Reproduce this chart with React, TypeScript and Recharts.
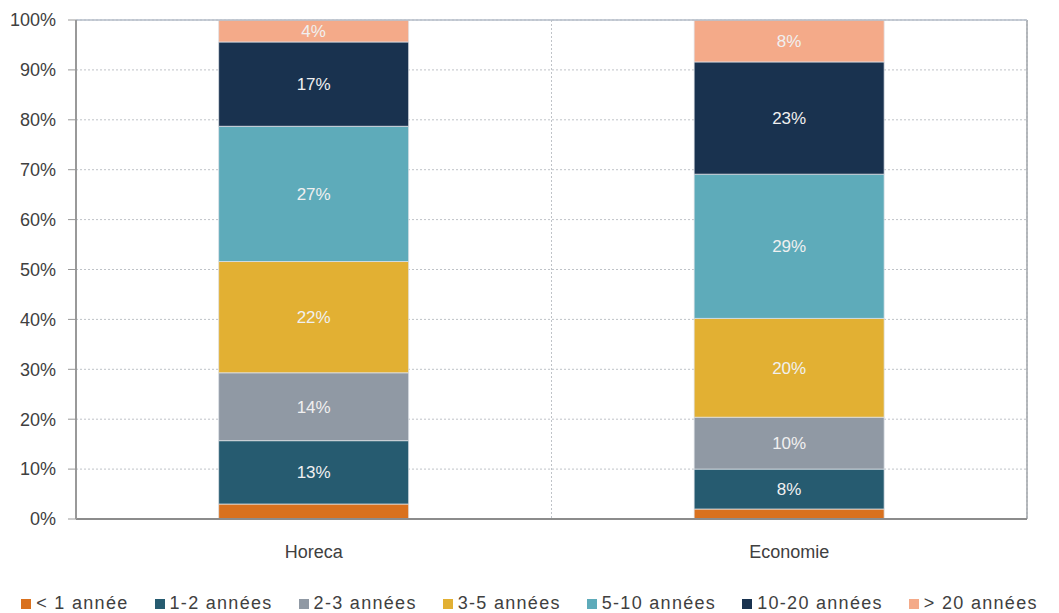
import React from 'react';
import { BarChart, Bar, XAxis, YAxis, CartesianGrid, LabelList, ReferenceLine, Legend } from 'recharts';

const categories = ['Horeca', 'Economie'];
const seriesNames = ['< 1 année', '1-2 années', '2-3 années', '3-5 années', '5-10 années', '10-20 années', '> 20 années'];
const horeca = [3.0, 12.7, 13.6, 22.3, 27.1, 16.9, 4.4];
const economie = [2.0, 8.0, 10.4, 19.8, 28.9, 22.5, 8.4];
const colors = ['#D9711E', '#265B70', '#9099A4', '#E2B033', '#5EABBA', '#19324F', '#F4AA89'];
const yTicks = [0, 10, 20, 30, 40, 50, 60, 70, 80, 90, 100];

const keys = seriesNames.map((_, i) => 's' + i);
const data = categories.map((c, ci) => {
  const row: any = { name: c, idx: ci + 0.5 };
  const vals = ci === 0 ? horeca : economie;
  keys.forEach((k, i) => (row[k] = vals[i]));
  return row;
});

const FONT = '"Liberation Sans", Arial, sans-serif';

const LegendContent = () => (
  <div style={{ display: 'flex', justifyContent: 'center', gap: 26, fontFamily: FONT, fontSize: 18, color: '#404040' }}>
    {seriesNames.map((n, i) => (
      <div key={n} style={{ display: 'flex', alignItems: 'center' }}>
        <span style={{ width: 10, height: 10, background: colors[i], display: 'inline-block', marginRight: 5 }} />
        <span style={{ letterSpacing: 1.3 }}>{n}</span>
      </div>
    ))}
  </div>
);

export default function App() {
  return (
    <div style={{ position: 'absolute', left: 0, top: 0, background: '#fff' }}>
      <BarChart width={1059} height={613} data={data} margin={{ top: 20, right: 32, left: 0, bottom: 28 }} barCategoryGap="30%">
        <XAxis xAxisId="grid" type="number" dataKey="idx" domain={[0, 2]} ticks={[0, 1, 2]} hide />
        <CartesianGrid xAxisId="grid" stroke="#bfc3c8" strokeDasharray="2 2" />
        <XAxis dataKey="name" height={45} tickLine={false} axisLine={{ stroke: '#8c8c8c', strokeWidth: 2 }} tickMargin={20}
          tick={{ fontFamily: FONT, fontSize: 18, fill: '#404040' }} />
        <YAxis domain={[0, 100]} ticks={yTicks} width={76} tickSize={8} tickMargin={12} interval={0}
          tickFormatter={(v: number) => `${v}%`} axisLine={{ stroke: '#999', strokeWidth: 2 }} tickLine={{ stroke: '#999' }}
          tick={{ fontFamily: FONT, fontSize: 18, fill: '#404040' }} />
        <ReferenceLine xAxisId="grid" x={2} stroke="#a0a4aa" strokeWidth={1.5} />
        <ReferenceLine y={100} stroke="#b4bcc8" strokeWidth={1.5} />
        {keys.map((k, i) => (
          <Bar key={k} dataKey={k} stackId="a" fill={colors[i]} stroke="#dfe3e8" strokeWidth={0.75} isAnimationActive={false}>
            <LabelList dataKey={k} position="center" fill="#f0f0f0" fontFamily={FONT} fontSize={17}
              formatter={(v: number) => (v >= 3.5 ? `${Math.round(v)}%` : '')} />
          </Bar>
        ))}
        <Legend content={<LegendContent />} wrapperStyle={{ left: 0, width: 1059, top: 593 }} />
      </BarChart>
    </div>
  );
}
